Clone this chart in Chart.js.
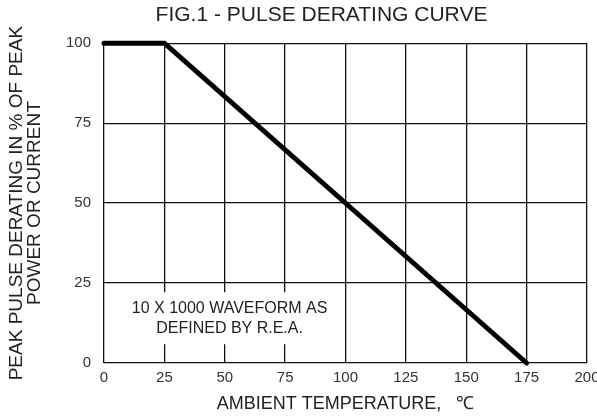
<!DOCTYPE html>
<html>
<head>
<meta charset="utf-8">
<script src="https://cdn.jsdelivr.net/npm/chart.js@4.4.1/dist/chart.umd.min.js"></script>
<style>
  html, body { margin: 0; padding: 0; background: #fff; }
  #wrap { width: 597px; height: 418px; }
</style>
</head>
<body>
<div id="wrap"><canvas id="chart"></canvas></div>
<script>
// Pulse derating curve: temperature (°C) vs % of peak
const temps = [0, 25, 175];
const derating = [100, 100, 0];
const xTicks = [0, 25, 50, 75, 100, 125, 150, 175, 200];
const yTicks = [0, 25, 50, 75, 100];
const noteLines = ['10 X 1000 WAVEFORM AS', 'DEFINED BY R.E.A.'];

const FONT = "'Liberation Sans', Arial, sans-serif";
const notePos = { x: 52, y: 14 };

// white box + caption over the grid, under the curve
const notePlugin = {
    id: 'note',
    afterLayout: function (chart) {
        // title sits a bit right of canvas centre in the original
        if (chart.titleBlock) chart.titleBlock.left = 56;
    },
    beforeDatasetsDraw: function (chart) {
        const ctx = chart.ctx;
        const cx = chart.scales.x.getPixelForValue(notePos.x);
        const cy = chart.scales.y.getPixelForValue(notePos.y);
        ctx.save();
        ctx.font = '16px ' + FONT;
        let w = 0;
        noteLines.forEach(function (t) { w = Math.max(w, ctx.measureText(t).width); });
        const lh = 20;
        const h = lh * noteLines.length;
        ctx.fillStyle = '#fff';
        ctx.fillRect(cx - w / 2 - 8, cy - h / 2 - 6, w + 16, h + 12);
        ctx.fillStyle = '#222';
        ctx.textAlign = 'center';
        ctx.textBaseline = 'middle';
        noteLines.forEach(function (t, i) {
            ctx.fillText(t, cx, cy - h / 2 + lh / 2 + i * lh);
        });
        ctx.restore();
    }
};

const points = temps.map(function (t, i) { return { x: t, y: derating[i] }; });

new Chart(document.getElementById('chart'), {
    type: 'line',
    data: {
        datasets: [{
            data: points,
            borderColor: '#000',
            borderWidth: 5,
            borderCapStyle: 'round',
            pointRadius: 0,
            tension: 0,
            clip: false
        }]
    },
    options: {
        responsive: true,
        maintainAspectRatio: false,
        animation: false,
        devicePixelRatio: 1,
        layout: { padding: { left: 0, right: 10, top: 0, bottom: 0 } },
        plugins: {
            legend: { display: false },
            tooltip: { enabled: false },
            title: {
                display: true,
                text: 'FIG.1 - PULSE DERATING CURVE',
                color: '#222',
                font: { family: FONT, size: 21, weight: 'normal' },
                padding: { top: 3, bottom: 15 }
            }
        },
        scales: {
            x: {
                type: 'linear',
                min: 0,
                max: 200,
                afterBuildTicks: function (s) { s.ticks = xTicks.map(function (v) { return { value: v }; }); },
                afterFit: function (s) { s.height = 55; s.paddingRight = 10; },
                grid: { color: '#111', lineWidth: 1.3, drawTicks: false },
                border: { display: false },
                ticks: {
                    color: '#333',
                    padding: 6,
                    maxRotation: 0,
                    font: { family: FONT, size: 15 }
                },
                title: {
                    display: true,
                    text: 'AMBIENT TEMPERATURE,   \u2103',
                    color: '#222',
                    font: { family: FONT, size: 18 },
                    padding: { top: 0, bottom: 3 }
                }
            },
            y: {
                min: 0,
                max: 100,
                afterBuildTicks: function (s) { s.ticks = yTicks.map(function (v) { return { value: v }; }); },
                afterFit: function (s) { s.width = 104; },
                grid: { color: '#111', lineWidth: 1.3, drawTicks: false },
                border: { display: false },
                ticks: {
                    color: '#333',
                    padding: 13,
                    font: { family: FONT, size: 15 }
                },
                title: {
                    display: true,
                    text: ['PEAK PULSE DERATING IN % OF PEAK', 'POWER OR CURRENT'],
                    color: '#222',
                    font: { family: FONT, size: 19, lineHeight: '18px' },
                    padding: { top: 8, bottom: 0 }
                }
            }
        }
    },
    plugins: [notePlugin]
});
</script>
</body>
</html>
